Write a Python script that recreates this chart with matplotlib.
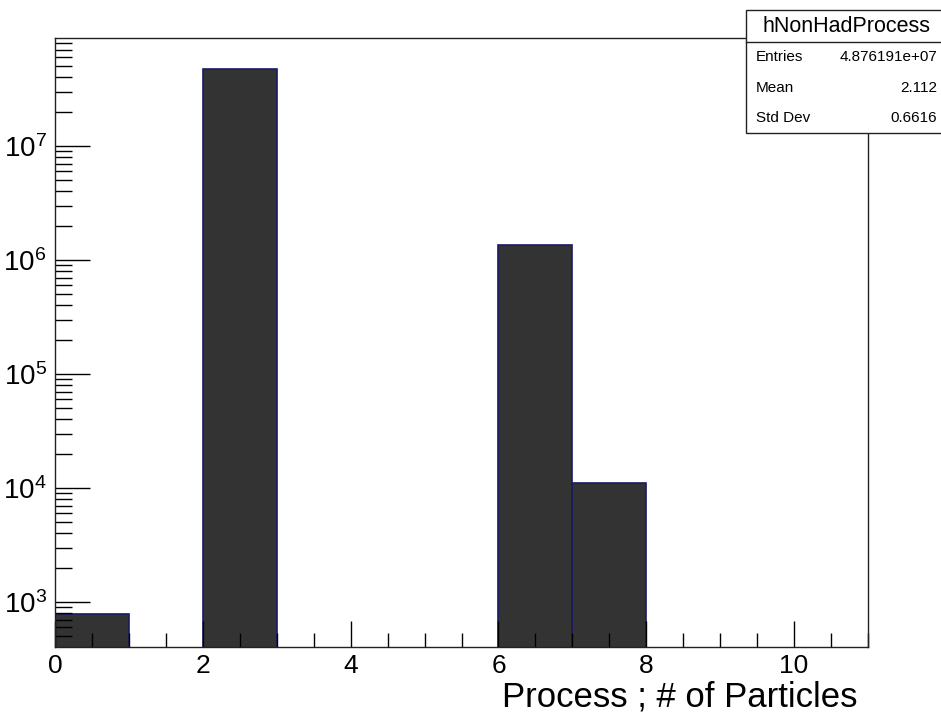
import numpy as np
import matplotlib.pyplot as plt
from matplotlib.ticker import MultipleLocator, LogLocator, NullFormatter

plt.rcParams['font.family'] = ['Liberation Sans', 'DejaVu Sans']

# histogram contents (process id bins, width 1)
bin_edges = [0, 1, 2, 3, 4, 5, 6, 7, 8, 9, 10, 11]
counts = [790, 0, 4.738e7, 0, 0, 0, 1.365e6, 1.1e4, 0, 0, 0]

hist_name = "hNonHadProcess"
stat_labels = ["Entries", "Mean", "Std Dev"]
stat_values = ["4.876191e+07", "2.112", "0.6616"]

fig = plt.figure(figsize=(9.41, 7.24), dpi=100)
ax = fig.add_axes([55 / 941, 1 - 647 / 724, 813 / 941, 609 / 724])

lefts = np.array(bin_edges[:-1])
vals = np.array(counts)
mask = vals > 0
ax.bar(lefts[mask], vals[mask], width=1.0, align='edge', bottom=1e-3,
       color='#333333', edgecolor='#1a1a66', linewidth=1.2)

ax.set_yscale('log')
ax.set_xlim(0, 11)
ax.set_ylim(403, 8.85e7)

ax.xaxis.set_major_locator(MultipleLocator(2))
ax.xaxis.set_minor_locator(MultipleLocator(0.5))
ax.yaxis.set_major_locator(LogLocator(base=10, numticks=20))
ax.yaxis.set_minor_locator(LogLocator(base=10, subs=np.arange(2, 10), numticks=20))
ax.yaxis.set_minor_formatter(NullFormatter())

ax.tick_params(axis='both', which='both', direction='in', top=False, right=False)
ax.tick_params(axis='x', which='major', length=19, width=1, labelsize=19, pad=5)
ax.tick_params(axis='x', which='minor', length=10, width=1)
ax.tick_params(axis='y', which='major', length=25, width=1, labelsize=20, pad=6)
ax.tick_params(axis='y', which='minor', length=12, width=1)
for s in ax.spines.values():
    s.set_linewidth(1.0)
    s.set_color('#222222')

fig.text(857 / 941, 1 - 697 / 724, "Process ; # of Particles", ha='right', va='center',
         fontsize=25)

# stats box
bx0, by_top, by_bot = 746 / 941, 1 - 10 / 724, 1 - 133 / 724
bw = 1.0 - bx0 + 0.01
box = plt.Rectangle((bx0, by_bot), bw, by_top - by_bot, transform=fig.transFigure,
                    facecolor='white', edgecolor='#222222', linewidth=1.0, zorder=5)
fig.add_artist(box)
sep_y = 1 - 42 / 724
fig.add_artist(plt.Line2D([bx0, 1.0], [sep_y, sep_y], transform=fig.transFigure,
                          color='#222222', linewidth=1.0, zorder=6))
fig.text(847 / 941, (by_top + sep_y) / 2, hist_name, ha='center', va='center',
         fontsize=15.5, zorder=7)
rows = np.linspace(sep_y, by_bot, len(stat_labels) + 1)
for i, (lab, val) in enumerate(zip(stat_labels, stat_values)):
    yc = (rows[i] + rows[i + 1]) / 2
    fig.text(bx0 + 10 / 941, yc, lab, ha='left', va='center', fontsize=11, zorder=7)
    fig.text(1 - 4 / 941, yc, val, ha='right', va='center', fontsize=11, zorder=7)

fig.savefig("out.png", dpi=100)
